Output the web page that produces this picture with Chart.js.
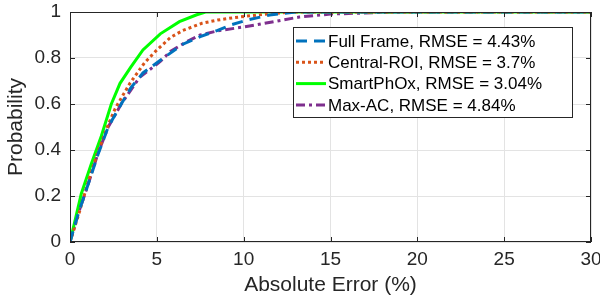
<!DOCTYPE html>
<html>
<head>
<meta charset="utf-8">
<script src="https://cdn.jsdelivr.net/npm/chart.js@4"></script>
<style>
  html, body { margin: 0; padding: 0; background: #fff; }
  #wrap { width: 600px; height: 298px; }
</style>
</head>
<body>
<div id="wrap"><canvas id="myChart" width="600" height="298"></canvas></div>
<script>
// CDF curves: [absolute error %, probability]
const fullFrame = [[0,0],[0.46,0.12],[1.04,0.25],[1.61,0.38],[2.2,0.5],[2.95,0.6],[3.5,0.67],[4.2,0.735],[5.2,0.79],[6.5,0.86],[7.5,0.893],[8.5,0.92],[9.3,0.945],[10.2,0.965],[11.5,0.987],[13,1],[30,1]];
const centralROI = [[0,0],[0.5,0.12],[1.0,0.25],[1.55,0.38],[2.2,0.51],[2.6,0.58],[3.45,0.69],[4.3,0.78],[5.0,0.835],[5.8,0.89],[6.5,0.92],[7.6,0.951],[8.5,0.965],[9.4,0.975],[10.5,0.985],[12.8,1],[30,1]];
const smartPhOx = [[0,0],[0.65,0.21],[1.23,0.34],[1.8,0.46],[2.38,0.6],[2.88,0.69],[3.5,0.76],[4.2,0.835],[5.2,0.905],[6.3,0.958],[7.3,0.988],[7.8,1],[30,1]];
const maxAC = [[0,0],[0.46,0.12],[1.04,0.25],[1.61,0.385],[2.2,0.5],[2.95,0.6],[4.0,0.715],[5.2,0.785],[5.8,0.83],[6.7,0.87],[7.5,0.9],[8.5,0.918],[10,0.935],[11,0.948],[13.2,0.978],[15,0.991],[18.8,1],[30,1]];

const seriesNames = ['Full Frame, RMSE = 4.43%', 'Central-ROI, RMSE = 3.7%', 'SmartPhOx, RMSE = 3.04%', 'Max-AC, RMSE = 4.84%'];
const xTicks = [0, 5, 10, 15, 20, 25, 30];
const yTicks = [0, 0.2, 0.4, 0.6, 0.8, 1];

const FONT = '"Liberation Sans", Arial, sans-serif';
const INK = '#262626';

function pts(arr) {
  return arr.map(p => ({ x: p[0], y: p[1] }));
}

// matlab style box, inward ticks and legend inside the axes
const boxPlugin = {
  id: 'boxPlugin',
  afterDraw(chart) {
    const ctx = chart.ctx;
    const a = chart.chartArea;
    const xs = chart.scales.x, ys = chart.scales.y;
    ctx.save();
    ctx.strokeStyle = INK;
    ctx.lineWidth = 1;
    ctx.setLineDash([]);
    ctx.strokeRect(a.left + 0.5, a.top + 0.5, a.right - a.left - 1, a.bottom - a.top - 1);
    ctx.beginPath();
    xTicks.forEach(v => {
      const px = Math.round(xs.getPixelForValue(v)) + 0.5;
      ctx.moveTo(px, a.bottom); ctx.lineTo(px, a.bottom - 5);
      ctx.moveTo(px, a.top); ctx.lineTo(px, a.top + 5);
    });
    yTicks.forEach(v => {
      const py = Math.round(ys.getPixelForValue(v)) + 0.5;
      ctx.moveTo(a.left, py); ctx.lineTo(a.left + 5, py);
      ctx.moveTo(a.right, py); ctx.lineTo(a.right - 5, py);
    });
    ctx.stroke();

    // legend
    const lx = 293, ly = 27, lw = 279, lh = 90;
    ctx.fillStyle = '#fff';
    ctx.fillRect(lx, ly, lw, lh);
    ctx.strokeStyle = INK;
    ctx.strokeRect(lx + 0.5, ly + 0.5, lw, lh);
    ctx.font = '17px ' + FONT;
    ctx.textBaseline = 'middle';
    chart.data.datasets.forEach((ds, i) => {
      const y = ly + 14 + i * 21.3;
      ctx.strokeStyle = ds.borderColor;
      ctx.lineWidth = ds.borderWidth;
      ctx.setLineDash(ds.borderDash || []);
      ctx.beginPath();
      ctx.moveTo(lx + 3, y);
      ctx.lineTo(lx + 33, y);
      ctx.stroke();
      ctx.setLineDash([]);
      ctx.fillStyle = '#000';
      ctx.fillText(ds.label, lx + 35, y + 1);
    });
    ctx.restore();
  }
};

const ctx = document.getElementById('myChart');
new Chart(ctx, {
  type: 'scatter',
  data: {
    datasets: [
      { label: seriesNames[0], data: pts(fullFrame), borderColor: '#0072BD', borderWidth: 3, borderDash: [11, 7] },
      { label: seriesNames[1], data: pts(centralROI), borderColor: '#D95319', borderWidth: 3, borderDash: [3, 3] },
      { label: seriesNames[2], data: pts(smartPhOx), borderColor: '#00FF00', borderWidth: 3 },
      { label: seriesNames[3], data: pts(maxAC), borderColor: '#7E2F8E', borderWidth: 3, borderDash: [9, 4, 3, 4] }
    ].map(d => Object.assign(d, { showLine: true, pointRadius: 0, tension: 0, fill: false }))
  },
  options: {
    responsive: false,
    animation: false,
    layout: { padding: { top: 12, right: 9, left: 0, bottom: 0 } },
    plugins: { legend: { display: false }, tooltip: { enabled: false } },
    scales: {
      x: {
        type: 'linear', min: 0, max: 30,
        afterBuildTicks: s => { s.ticks = xTicks.map(v => ({ value: v })); },
        afterFit: s => { s.height = 56; s.paddingLeft = 0; s.paddingRight = 0; },
        grid: { color: '#e3e3e3', drawTicks: false },
        border: { display: false },
        ticks: { color: INK, font: { family: FONT, size: 19 }, padding: 6, maxRotation: 0 },
        title: { display: true, text: 'Absolute Error (%)', color: INK, font: { family: FONT, size: 21 }, padding: { top: 0, bottom: 0 } }
      },
      y: {
        type: 'linear', min: 0, max: 1,
        afterBuildTicks: s => { s.ticks = yTicks.map(v => ({ value: v })); },
        afterFit: s => { s.width = 70; s.paddingTop = 0; s.paddingBottom = 0; },
        grid: { color: '#e3e3e3', drawTicks: false },
        border: { display: false },
        ticks: { color: INK, font: { family: FONT, size: 19 }, padding: 9, callback: v => String(+v.toFixed(1)) },
        title: { display: true, text: 'Probability', color: INK, font: { family: FONT, size: 21 }, padding: { bottom: 0 } }
      }
    }
  },
  plugins: [boxPlugin]
});
</script>
</body>
</html>
